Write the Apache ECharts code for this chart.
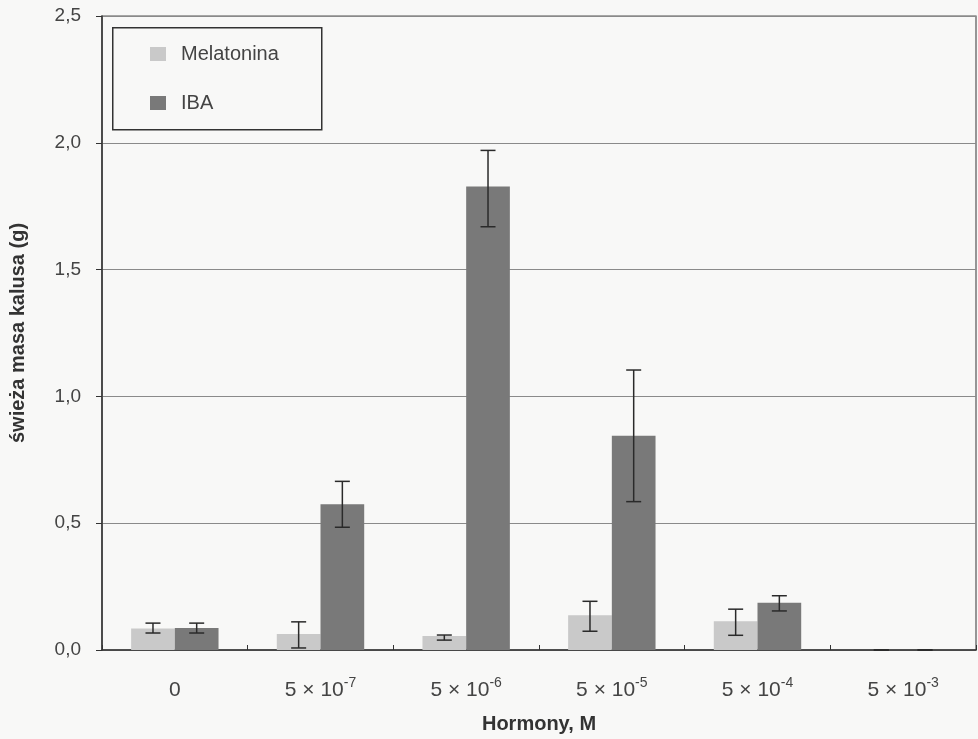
<!DOCTYPE html>
<html><head><meta charset="utf-8">
<script src="https://cdn.jsdelivr.net/npm/echarts@6/dist/echarts.min.js"></script>
<style>html,body{margin:0;padding:0;background:#f8f8f7;overflow:hidden}#c{width:978px;height:739px}</style>
</head><body><div id="c"></div>
<script>
const categories = ['0', '5 × 10|-7', '5 × 10|-6', '5 × 10|-5', '5 × 10|-4', '5 × 10|-3'];
const melatonina = [0.085, 0.063, 0.055, 0.137, 0.113, 0];
const melLow = [0.067, 0.008, 0.039, 0.074, 0.058, 0];
const melHigh = [0.106, 0.111, 0.059, 0.192, 0.161, 0];
const iba = [0.087, 0.575, 1.828, 0.845, 0.186, 0];
const ibaLow = [0.067, 0.484, 1.669, 0.585, 0.154, 0];
const ibaHigh = [0.106, 0.665, 1.970, 1.104, 0.214, 0];
const yTicks = [0, 0.5, 1.0, 1.5, 2.0, 2.5];

const chart = echarts.init(document.getElementById('c'));
const BAR_FRAC = 0.30;

function errSeries(name, low, high, sign) {
  return {
    type: 'custom', name: name + ' err', silent: true, z: 5,
    data: categories.map((c, i) => [i, low[i], high[i]]),
    renderItem: function (params, api) {
      const i = api.value(0);
      const band = api.size([1, 0])[0];
      const off = sign * band * BAR_FRAC / 2;
      const p1 = api.coord([i, api.value(1)]);
      const p2 = api.coord([i, api.value(2)]);
      const x = p1[0] + off;
      const hw = 7.5;
      const st = { stroke: '#2a2a2a', lineWidth: 1.5 };
      return { type: 'group', children: [
        { type: 'line', shape: { x1: x, y1: p1[1], x2: x, y2: p2[1] }, style: st },
        { type: 'line', shape: { x1: x - hw, y1: p1[1], x2: x + hw, y2: p1[1] }, style: st },
        { type: 'line', shape: { x1: x - hw, y1: p2[1], x2: x + hw, y2: p2[1] }, style: st }
      ]};
    }
  };
}

chart.setOption({
  backgroundColor: '#f8f8f7',
  animation: false,
  textStyle: { fontFamily: 'Liberation Sans, Arial, sans-serif' },
  grid: { left: 101, right: 2, top: 16, bottom: 87, show: true, borderColor: '#555', borderWidth: 1.2, backgroundColor: 'transparent' },
  graphic: [{
    type: 'rect', left: 112, top: 27, z: 10,
    shape: { width: 209, height: 102 },
    style: { fill: 'transparent', stroke: '#333', lineWidth: 1.5 }
  }],
  legend: {
    left: 150, top: 44, orient: 'vertical',
    padding: 0, itemGap: 29,
    itemWidth: 16, itemHeight: 14, icon: 'rect',
    data: ['Melatonina', 'IBA'],
    textStyle: { fontSize: 20, lineHeight: 20, color: '#444', padding: [0, 0, 0, 10] }
  },
  xAxis: {
    type: 'category', data: categories,
    name: 'Hormony, M', nameLocation: 'middle', nameGap: 64,
    nameTextStyle: { fontSize: 20, fontWeight: 'bold', color: '#333' },
    axisLine: { lineStyle: { color: '#333', width: 1.5 } },
    axisTick: { show: true, inside: true, length: 5, lineStyle: { color: '#333' } },
    axisLabel: {
      margin: 26, color: '#444',
      formatter: function (v) {
        const parts = v.split('|');
        if (parts.length === 1) return '{a|' + v + '}';
        return '{a|' + parts[0] + '}{s|' + parts[1] + '}';
      },
      rich: {
        a: { fontSize: 21, color: '#444', lineHeight: 25, verticalAlign: 'bottom' },
        s: { fontSize: 14, color: '#444', lineHeight: 25, verticalAlign: 'top', padding: [0, 0, 13, 0] }
      }
    }
  },
  yAxis: {
    type: 'value', min: 0, max: 2.5, interval: 0.5,
    name: 'świeża masa kalusa (g)', nameLocation: 'middle', nameGap: 74,
    nameTextStyle: { fontSize: 20, fontWeight: 'bold', color: '#333' },
    axisLine: { show: true, lineStyle: { color: '#333', width: 1.5 } },
    axisTick: { show: true, length: 6, lineStyle: { color: '#333' } },
    axisLabel: { margin: 21, fontSize: 19, color: '#444', formatter: v => v.toFixed(1).replace('.', ',') },
    splitLine: { show: true, lineStyle: { color: '#8a8a8a', width: 1 } }
  },
  series: [
    { name: 'Melatonina', type: 'bar', data: melatonina, barWidth: (BAR_FRAC * 100) + '%', barGap: '0%', itemStyle: { color: '#c9c9c9' } },
    { name: 'IBA', type: 'bar', data: iba, barWidth: (BAR_FRAC * 100) + '%', barGap: '0%', itemStyle: { color: '#797979' } },
    errSeries('Melatonina', melLow, melHigh, -1),
    errSeries('IBA', ibaLow, ibaHigh, 1)
  ]
});
</script></body></html>
